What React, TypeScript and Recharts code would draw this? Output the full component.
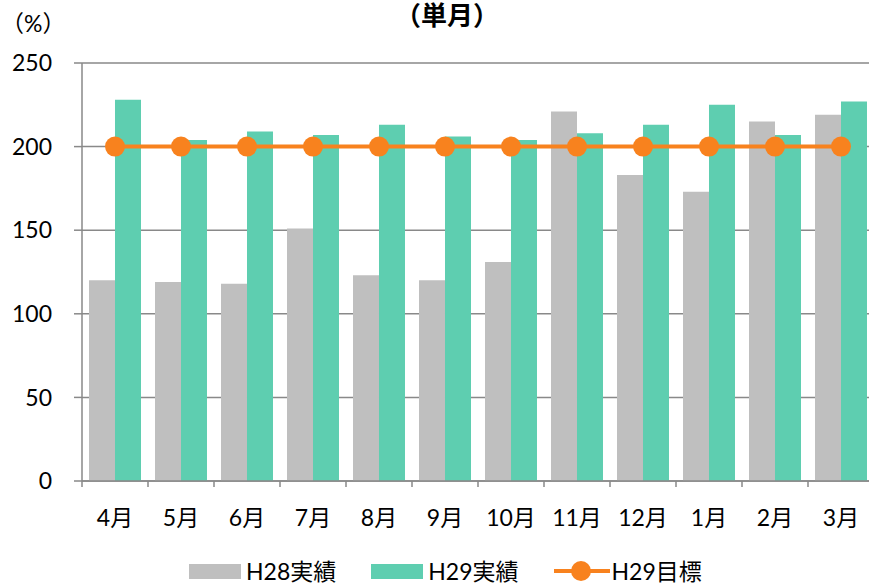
import React from 'react'
import { Bar, CartesianGrid, ComposedChart, Legend, Line, XAxis, YAxis } from 'recharts'

const months = ['4月', '5月', '6月', '7月', '8月', '9月', '10月', '11月', '12月', '1月', '2月', '3月']
const h28 = [120, 119, 118, 151, 123, 120, 131, 221, 183, 173, 215, 219]
const h29 = [228, 204, 209, 207, 213, 206, 204, 208, 213, 225, 207, 227]
const target = [200, 200, 200, 200, 200, 200, 200, 200, 200, 200, 200, 200]
const yTicks = [0, 50, 100, 150, 200, 250]

const data = months.map((m, i) => ({ month: m, h28: h28[i], h29: h29[i], target: target[i] }))

const W = 880
const H = 585
const M = { top: 63, right: 6, left: 0, bottom: 0 }
const Y_W = 82
const band = (W - M.right - M.left - Y_W) / months.length

const GRID = '#898989'
const GRAY = '#BFBFBF'
const GREEN = '#5ECEB0'
const ORANGE = '#F8821E'
const FONT = "Lato, 'Noto Sans CJK JP', sans-serif"

const XTick = (props: any) => {
  const { x, y, payload } = props
  return (
    <g>
      <line x1={x - band / 2} y1={y} x2={x - band / 2} y2={y + 6} stroke={GRID} strokeWidth={1.5} />
      <text x={x} y={y + 36} textAnchor="middle" dominantBaseline="central" fontSize={23} fill="#000" fontFamily={FONT}>
        {payload.value}
      </text>
    </g>
  )
}

const LegendContent = (props: any) => {
  const { payload } = props
  return (
    <div style={{ display: 'flex', alignItems: 'center', paddingLeft: 189, fontFamily: FONT, fontSize: 23, color: '#000', height: 22 }}>
      {payload.map((p: any, i: number) => (
        <div key={i} style={{ display: 'flex', alignItems: 'center', marginRight: 35 }}>
          {p.type === 'line' ? (
            <svg width={56} height={22} style={{ marginRight: 2 }}>
              <line x1={0} y1={11} x2={56} y2={11} stroke={p.color} strokeWidth={4} />
              <circle cx={27} cy={11} r={10} fill={p.color} />
            </svg>
          ) : (
            <span style={{ display: 'inline-block', width: 52, height: 15, background: p.color, marginRight: 5 }} />
          )}
          <span style={{ lineHeight: 1 }}>{p.value}</span>
        </div>
      ))}
    </div>
  )
}

export default function App() {
  return (
    <div style={{ position: 'absolute', left: 0, top: 0, width: 869, height: H, overflow: 'hidden', background: '#fff' }}>
      <div style={{ position: 'absolute', left: 347, top: 2, width: 200, textAlign: 'center', fontFamily: FONT, fontSize: 26, fontWeight: 'bold', lineHeight: 1 }}>
        （単月）
      </div>
      <div style={{ position: 'absolute', left: 1, top: 12, fontFamily: FONT, fontSize: 23, lineHeight: 1 }}>
        （%）
      </div>
      <ComposedChart width={W} height={H} data={data} margin={M} barCategoryGap="10.6%" barGap={0}>
        <CartesianGrid vertical={false} stroke={GRID} strokeWidth={1.5} />
        <XAxis
          dataKey="month"
          height={104}
          tickLine={false}
          tickSize={0}
          tickMargin={0}
          axisLine={{ stroke: GRID, strokeWidth: 1.5 }}
          tick={<XTick />}
          interval={0}
        />
        <YAxis
          width={Y_W}
          domain={[0, 250]}
          ticks={yTicks}
          tickSize={8}
          tickMargin={22}
          tickLine={{ stroke: GRID, strokeWidth: 1.5 }}
          axisLine={{ stroke: GRID, strokeWidth: 1.5 }}
          tick={{ fontSize: 23, fill: '#000', fontFamily: FONT }}
        />
        <Bar dataKey="h28" name="H28実績" fill={GRAY} isAnimationActive={false} legendType="rect" />
        <Bar dataKey="h29" name="H29実績" fill={GREEN} isAnimationActive={false} legendType="rect" />
        <Line
          dataKey="target"
          name="H29目標"
          stroke={ORANGE}
          strokeWidth={4}
          dot={{ r: 10, fill: ORANGE, stroke: 'none' }}
          isAnimationActive={false}
          legendType="line"
        />
        <Legend
          layout="horizontal"
          verticalAlign="middle"
          align="center"
          content={<LegendContent />}
          wrapperStyle={{ position: 'absolute', top: 560, left: 0, width: 869 }}
        />
      </ComposedChart>
    </div>
  )
}
